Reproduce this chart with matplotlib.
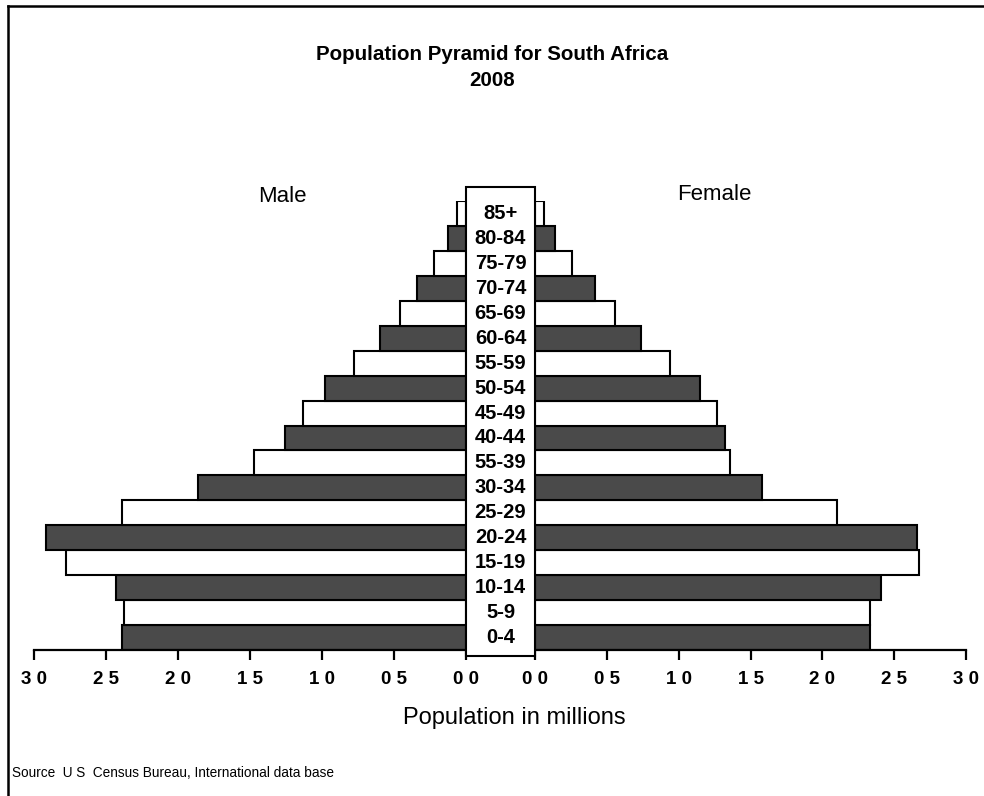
import matplotlib.pyplot as plt
from matplotlib.lines import Line2D
from matplotlib.patches import Rectangle

plt.rcParams['font.family'] = ['Liberation Sans', 'DejaVu Sans']

# age groups, bottom to top (labels as printed in the source)
ages = ['0-4', '5-9', '10-14', '15-19', '20-24', '25-29', '30-34', '55-39',
        '40-44', '45-49', '50-54', '55-59', '60-64', '65-69', '70-74',
        '75-79', '80-84', '85+']
# population in millions
male = [2.39, 2.375, 2.43, 2.78, 2.92, 2.39, 1.86, 1.47, 1.26, 1.13,
        0.98, 0.78, 0.60, 0.46, 0.34, 0.22, 0.125, 0.063]
female = [2.33, 2.33, 2.41, 2.67, 2.66, 2.10, 1.58, 1.36, 1.32, 1.27,
          1.15, 0.94, 0.74, 0.56, 0.42, 0.26, 0.14, 0.063]
ticks = [3.0, 2.5, 2.0, 1.5, 1.0, 0.5, 0.0]
tick_labels = ['3 0', '2 5', '2 0', '1 5', '1 0', '0 5', '0 0']

W, H = 984, 796
fig = plt.figure(figsize=(W / 100, H / 100), dpi=100)


def fx(px):
    return px / W


def fy(py):
    return 1 - py / H


bottom, top = 650, 201
ax_m = fig.add_axes([fx(34), fy(bottom), fx(466 - 34), (bottom - top) / H])
ax_f = fig.add_axes([fx(535), fy(bottom), fx(966 - 535), (bottom - top) / H])

dark = '#4a4a4a'
colors = [dark if i % 2 == 0 else 'white' for i in range(len(ages))]
y = list(range(len(ages)))

ax_m.barh(y, male, height=1.0, color=colors, edgecolor='black', linewidth=1.5)
ax_f.barh(y, female, height=1.0, color=colors, edgecolor='black', linewidth=1.5)

ax_m.set_xlim(3.0, 0)
ax_f.set_xlim(0, 3.0)
for ax in (ax_m, ax_f):
    ax.set_ylim(-0.5, len(ages) - 0.5)
    ax.set_facecolor('none')
    for s in ('top', 'left', 'right'):
        ax.spines[s].set_visible(False)
    ax.spines['bottom'].set_linewidth(1.6)
    ax.set_yticks([])
    ax.set_xticks(ticks)
    ax.set_xticklabels(tick_labels, fontsize=13.5, fontweight='bold')
    ax.tick_params(axis='x', direction='out', length=7, width=1.6, pad=8)

# central box with age labels
fig.add_artist(Rectangle((fx(466), fy(656)), fx(535 - 466), (656 - 187) / H,
                         transform=fig.transFigure, facecolor='white',
                         edgecolor='black', linewidth=1.5, zorder=5))
for i, a in enumerate(ages):
    yy = bottom - (i + 0.5) * (bottom - top) / len(ages)
    fig.text(fx(500.5), fy(yy), a, ha='center', va='center', fontsize=14.5,
             fontweight='bold', zorder=6)

fig.text(fx(492), fy(54), 'Population Pyramid for South Africa', ha='center',
         va='center', fontsize=14.8, fontweight='bold')
fig.text(fx(492), fy(80), '2008', ha='center', va='center', fontsize=14.8,
         fontweight='bold')
fig.text(fx(282), fy(196), 'Male', ha='center', va='center', fontsize=16)
fig.text(fx(714), fy(194), 'Female', ha='center', va='center', fontsize=16)
fig.text(fx(514), fy(718), 'Population in millions', ha='center', va='center',
         fontsize=17)
fig.text(fx(12), fy(773), 'Source  U S  Census Bureau, International data base',
         ha='left', va='center', fontsize=9.8)

# outer frame (left and top edges only)
fig.add_artist(Line2D([fx(8), fx(8)], [0, fy(6)], color='black', lw=1.8))
fig.add_artist(Line2D([fx(8), 1], [fy(6), fy(6)], color='black', lw=1.8))

fig.savefig('out.png', dpi=100)
